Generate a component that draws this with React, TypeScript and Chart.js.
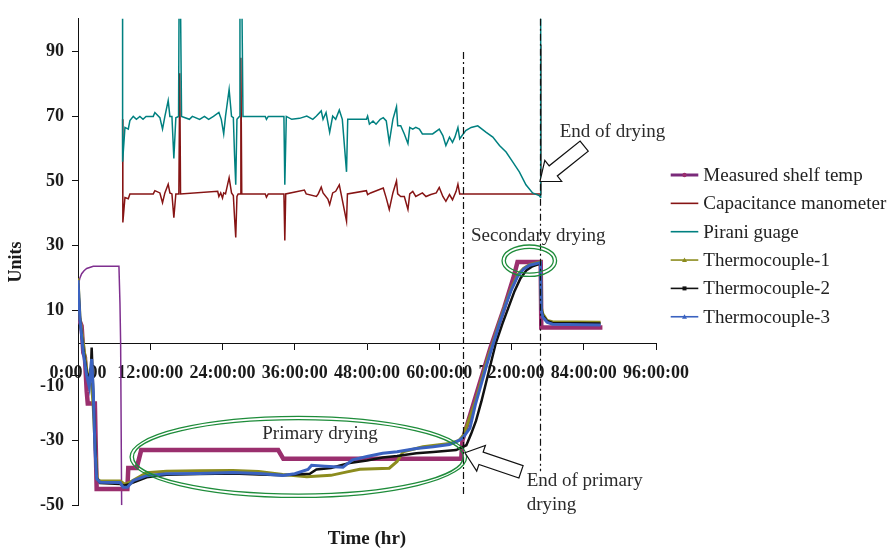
import React, { useEffect, useRef } from 'react';
import { Chart, registerables } from 'chart.js';

Chart.register(...registerables);

const FONT = '"Liberation Serif", "Times New Roman", serif';

// ---------- axes ----------
const xTickHours = [0, 12, 24, 36, 48, 60, 72, 84, 96];
const yTickValues = [-50, -30, -10, 10, 30, 50, 70, 90];

// ---------- series: [hours, value] ----------
const shelfTemp: [number, number][] = [
  [0, 10.8], [0.2, 7.2], [0.6, 5.3], [0.88, -2.9], [1.15, -4.4], [1.45, -15], [1.62, -18.6],
  [2.8, -18.6], [2.95, -32], [3.1, -45], [8.2, -45], [8.35, -38.5], [9.75, -38.5], [10.5, -33],
  [33.25, -33], [34.1, -35.7], [63.65, -35.7], [63.85, -30], [66.7, -12.5], [68.5, -1.5],
  [70.8, 11], [72.3, 20], [73.0, 25], [76.85, 25], [76.95, 4.8], [87.1, 4.8],
];

const capacitanceManometer: [number, number][] = [
  [7.41, 69], [7.45, 37.2], [7.8, 44.9], [8.35, 44.5], [8.62, 46], [12.5, 46], [12.77, 47],
  [13.6, 46.3], [14.04, 43.3], [14.43, 46.3], [14.98, 49], [15.26, 46.3], [15.6, 46], [15.92, 38.7],
  [16.25, 46], [16.75, 46], [16.9, 83.2], [17.03, 46], [23.2, 46.8], [23.4, 45.2], [23.7, 46.3],
  [24.0, 44.7], [24.2, 46.3], [24.5, 46], [25.1, 51], [25.5, 46.3], [25.8, 45.5], [26.0, 38.7],
  [26.2, 32.6], [26.4, 45.2], [26.6, 46], [26.95, 46], [27.05, 88], [27.2, 46], [31.1, 46],
  [31.3, 45], [31.6, 46], [34.2, 46], [34.35, 31.6], [34.5, 46], [37.6, 47.2], [37.9, 46],
  [39.6, 45.2], [39.9, 46], [40.4, 48.1], [40.7, 46.3], [41.5, 44.4], [41.8, 42.7], [42.3, 46.3],
  [42.8, 46.8], [43.4, 48.8], [43.7, 46], [44.6, 37.6], [44.75, 46], [47.9, 47], [48.1, 45.8],
  [48.6, 46.3], [50.7, 47.8], [51.2, 44.7], [51.7, 41.2], [52.3, 46.3], [52.9, 50], [53.1, 46],
  [53.6, 45.2], [54.2, 45.2], [54.8, 41.2], [55.1, 46], [55.6, 46.8], [56.1, 45.2], [57.2, 46.3],
  [57.8, 45.2], [58.6, 45.8], [59.5, 46.3], [60.0, 48], [60.6, 45.2], [61.1, 43.7], [61.7, 45.8],
  [62.2, 44.2], [62.8, 46.8], [63.1, 49], [63.4, 46], [76.8, 46], [76.88, 92],
];

const piraniGauge: [number, number][] = [
  [7.40, 110], [7.41, 55.9], [7.8, 66.5], [8.35, 66], [8.62, 68.6], [9.18, 69.9], [9.7, 69],
  [10.28, 69.9], [10.8, 69], [11.3, 69.9], [12.5, 69.9], [12.77, 71.1], [13.6, 69.5], [14.04, 66],
  [14.43, 69.9], [14.98, 74.8], [15.26, 69.9], [15.6, 69.9], [15.92, 56.9], [16.25, 69.5],
  [16.7, 69.9], [16.8, 110], [17.0, 110], [17.2, 69.9], [18.5, 69], [19.0, 69.9], [20.2, 69],
  [21.0, 69.9], [21.7, 69], [22.5, 69.9], [23.4, 71.1], [23.8, 69], [24.2, 64.5], [24.5, 69.9],
  [25.1, 78.2], [25.5, 69.9], [25.8, 69.5], [26.0, 57.9], [26.2, 48.8], [26.4, 69], [26.8, 69.9],
  [26.9, 110], [27.2, 110], [27.4, 69.9], [31.1, 69.9], [31.3, 69], [31.6, 69.9], [34.2, 69.9],
  [34.35, 48.8], [34.6, 69.9], [35.5, 69], [36.8, 69.3], [38.0, 70], [39.0, 69], [39.6, 70],
  [40.4, 71.6], [40.7, 69], [41.2, 71.1], [41.8, 65], [42.3, 70], [42.8, 69], [43.4, 71.9],
  [43.9, 69], [44.6, 52.8], [44.8, 69], [47.9, 69], [48.1, 70], [48.4, 67.5], [49.0, 68.5],
  [49.5, 67.5], [50.2, 69], [50.7, 69.5], [51.2, 68.5], [51.7, 61.9], [52.3, 69], [52.9, 72.9],
  [53.1, 67], [53.6, 67], [54.2, 64.5], [54.8, 61.5], [55.1, 66.5], [55.6, 66], [56.1, 66.5],
  [56.7, 66], [57.2, 64.5], [57.8, 64.5], [58.9, 64.5], [60.0, 66], [60.6, 64], [61.1, 60.9],
  [61.7, 63.5], [62.2, 61.9], [62.6, 63.5], [63.1, 66.5], [63.4, 63], [64.4, 65.5], [65.3, 66.5],
  [66.4, 67], [67.8, 65], [68.9, 63.5], [70.0, 60.9], [71.1, 58.9], [72.2, 55.9], [73.3, 52.8],
  [74.4, 48.8], [75.5, 46.3], [76.6, 45.5], [76.8, 45], [76.85, 110],
];

const thermocouple1: [number, number][] = [
  [0, 20], [0.33, 8], [0.88, 0], [1.44, -8], [1.87, -12], [2.27, -13], [2.54, -20], [2.82, -31],
  [3.2, -42], [3.65, -42.5], [7.0, -42.5], [7.8, -43.5], [8.5, -43], [11.4, -40], [14.7, -39.5],
  [20.2, -39.4], [25.7, -39.3], [30, -39.6], [34, -40.5], [38, -41.2], [42, -40.8], [44.5, -39.8],
  [46.8, -38.9], [51.7, -38.6], [53, -36.5], [54, -33.5], [57.3, -32], [61.7, -31], [63.3, -30],
  [64, -28.5], [66, -18], [67, -11.5], [68, -5], [68.9, 0], [70, 6.5], [71, 12], [72, 17],
  [73, 21], [74, 23], [75, 24.2], [76.8, 25], [76.95, 11], [77.2, 9], [77.9, 7], [78.8, 6.6],
  [86.8, 6.4],
];

const thermocouple2: [number, number][] = [
  [0, 18.5], [0.33, 7], [0.88, -2], [1.44, -9], [1.87, -11], [2.15, -8], [2.27, -1.4], [2.4, -8],
  [2.6, -19], [2.9, -33], [3.1, -41.5], [3.65, -43.2], [7, -43.5], [7.6, -44], [8.5, -43.5],
  [11.4, -41.4], [14.7, -40.6], [20.2, -40.4], [25.7, -40.2], [30, -40.5], [34, -40.8],
  [38.5, -40.3], [39.6, -39], [42, -38.5], [45.1, -37], [48, -36.2], [50.6, -35.3], [53, -34.8],
  [56.2, -34], [59, -33.6], [62.8, -33], [64.5, -31.5], [65.3, -28], [66.1, -24], [67, -18],
  [67.8, -12], [68.6, -6], [69.4, 0], [70.5, 6], [71.5, 11], [72.5, 16], [73.5, 20], [74.5, 22.5],
  [75.5, 23.7], [76.8, 24.5], [76.95, 10.5], [77.2, 8.5], [77.9, 6.8], [78.8, 6.2], [86.8, 6.0],
];

const thermocouple3: [number, number][] = [
  [0, 19.4], [0.33, 7.2], [0.88, -3], [1.44, -10], [1.87, -13.5], [2.27, -4.9], [2.54, -15],
  [2.82, -33], [3.1, -41.8], [3.65, -42.9], [7, -43], [7.5, -44.5], [8.2, -44.5], [9.2, -42.4],
  [11.4, -40.9], [14.7, -40.3], [20.2, -40.2], [25.7, -39.9], [30, -40.2], [34, -40.8],
  [36, -40.3], [38.2, -39], [38.8, -37.7], [41, -38], [44, -38.3], [45.6, -36], [48, -35],
  [50.6, -34], [53, -33.5], [56.2, -32.5], [59, -32], [61.7, -31.3], [63.3, -30], [64, -29],
  [65.1, -26.2], [66, -19], [67, -12.5], [68, -6], [69, 0], [70, 6], [71, 11.5], [72, 16.5],
  [73, 20.5], [74, 22.8], [75, 24], [76.8, 24.8], [76.95, 10], [77.2, 8], [77.9, 6.4],
  [78.8, 5.8], [86.8, 5.6],
];

// unlabeled thin trace at the start of the run
const startupTrace: [number, number][] = [
  [0.05, 17.9], [0.3, 20], [0.61, 21.4], [1.0, 22.3], [1.44, 23], [2.54, 23.7], [6.8, 23.7],
  [6.97, 12.3], [7.08, 0], [7.25, -50],
];

const seriesLabels = [
  'Measured shelf temp', 'Capacitance manometer', 'Pirani guage',
  'Thermocouple-1', 'Thermocouple-2', 'Thermocouple-3',
];
const seriesColors = ['#9a2f6e', '#861414', '#008080', '#8c8c1e', '#111111', '#3a62c0'];

// ---------- annotations (data units: hours, units) ----------
const phaseLines = [
  { h: 64.0, top: 89.8, bottom: -47.5 },
  { h: 76.75, top: 100, bottom: -39.5 },
];
const phaseEllipses = [
  { h: 36.6, v: -35.1, rh: 27.95, rv: 12.5 },
  { h: 74.96, v: 25.4, rh: 4.53, rv: 4.85 },
];
const arrows = [
  { tipH: 76.73, tipV: 49.83, tailH: 84.07, tailV: 60.75 },
  { tipH: 64.27, tipV: -33.83, tailH: 73.58, tailV: -39.7 },
];
const notes = [
  { text: 'Primary drying', h: 40.2, v: -28.2, align: 'center' },
  { text: 'Secondary drying', h: 76.45, v: 33.1, align: 'center' },
  { text: 'End of drying', h: 88.77, v: 65.0, align: 'center' },
  { text: 'End of primary', h: 74.52, v: -42.4, align: 'left' },
  { text: 'drying', h: 74.52, v: -49.8, align: 'left' },
];

function drawArrow(ctx: CanvasRenderingContext2D, x1: number, y1: number, x2: number, y2: number) {
  const dx = x2 - x1;
  const dy = y2 - y1;
  const len = Math.hypot(dx, dy);
  const ux = dx / len;
  const uy = dy / len;
  const nx = -uy;
  const ny = ux;
  const H = 17;
  const W = 13.5;
  const B = 6.5;
  const pts = [[0, 0], [H, W], [H, B], [len, B], [len, -B], [H, -B], [H, -W]].map(
    ([a, b]) => [x1 + ux * a + nx * b, y1 + uy * a + ny * b]
  );
  ctx.beginPath();
  pts.forEach(([X, Y], i) => (i ? ctx.lineTo(X, Y) : ctx.moveTo(X, Y)));
  ctx.closePath();
  ctx.fillStyle = '#ffffff';
  ctx.fill();
  ctx.strokeStyle = '#111111';
  ctx.lineWidth = 1.2;
  ctx.stroke();
}

const overlayPlugin = {
  id: 'overlay',
  afterDatasetsDraw(chart: any) {
    const { ctx } = chart;
    const xs = chart.scales.x;
    const ys = chart.scales.y;
    const px = (h: number) => xs.getPixelForValue(h);
    const py = (v: number) => ys.getPixelForValue(v);
    ctx.save();
    // phase boundary lines (dash-dot)
    ctx.strokeStyle = '#111111';
    ctx.lineWidth = 1.2;
    ctx.setLineDash([7, 3, 2, 3]);
    for (const m of phaseLines) {
      ctx.beginPath();
      ctx.moveTo(Math.round(px(m.h)) + 0.5, py(m.top));
      ctx.lineTo(Math.round(px(m.h)) + 0.5, py(m.bottom));
      ctx.stroke();
    }
    ctx.setLineDash([]);
    // double-line ellipses
    ctx.strokeStyle = '#1e8c3a';
    ctx.lineWidth = 1.3;
    for (const e of phaseEllipses) {
      const cx = px(e.h);
      const cy = py(e.v);
      const rx = px(e.h + e.rh) - cx;
      const ry = cy - py(e.v + e.rv);
      for (const inset of [0, 3.3]) {
        ctx.beginPath();
        ctx.ellipse(cx, cy, rx - inset, ry - inset, 0, 0, Math.PI * 2);
        ctx.stroke();
      }
    }
    // block arrows
    for (const a of arrows) {
      drawArrow(ctx, px(a.tipH), py(a.tipV), px(a.tailH), py(a.tailV));
    }
    // notes
    ctx.font = `19px ${FONT}`;
    ctx.fillStyle = '#2b2b2b';
    ctx.textBaseline = 'middle';
    for (const t of notes) {
      ctx.textAlign = t.align as CanvasTextAlign;
      ctx.fillText(t.text, px(t.h), py(t.v));
    }
    ctx.restore();
  },
  afterDraw(chart: any) {
    // legend at the right of the plot
    const { ctx, chartArea } = chart;
    const x0 = chartArea.right + 14.7;
    const lineLen = 27.6;
    const y0 = 175;
    const step = 28.35;
    ctx.save();
    ctx.font = `19px ${FONT}`;
    ctx.textBaseline = 'middle';
    ctx.textAlign = 'left';
    seriesLabels.forEach((label, i) => {
      const y = y0 + i * step;
      const color = seriesColors[i];
      ctx.strokeStyle = i === 0 ? '#7a2a7a' : color;
      ctx.lineWidth = i === 0 ? 3 : 1.6;
      ctx.beginPath();
      ctx.moveTo(x0, y);
      ctx.lineTo(x0 + lineLen, y);
      ctx.stroke();
      ctx.fillStyle = color;
      const mx = x0 + lineLen / 2;
      if (i === 0) {
        ctx.beginPath();
        ctx.arc(mx, y, 2.2, 0, Math.PI * 2);
        ctx.fill();
      } else if (i === 3 || i === 5) {
        ctx.beginPath();
        ctx.moveTo(mx, y - 2.5);
        ctx.lineTo(mx + 2.5, y + 2);
        ctx.lineTo(mx - 2.5, y + 2);
        ctx.closePath();
        ctx.fill();
      } else if (i === 4) {
        ctx.fillRect(mx - 2, y - 2, 4, 4);
      }
      ctx.fillStyle = '#222222';
      ctx.fillText(label, x0 + lineLen + 5, y + 1);
    });
    ctx.restore();
  },
};

const toXY = (pts: [number, number][]) => pts.map(([x, y]) => ({ x, y }));

export default function App() {
  const ref = useRef<HTMLCanvasElement>(null);
  useEffect(() => {
    document.body.style.margin = '0';
    const tickFont = { family: FONT, size: 18, weight: 'bold' as const };
    const series = [shelfTemp, capacitanceManometer, piraniGauge, thermocouple1, thermocouple2, thermocouple3];
    const widths = [4.5, 1.5, 1.5, 3, 2.5, 3];
    const orders = [3, 5, 4, 2, 1, 0];
    const datasets: any[] = series.map((pts, i) => ({
      label: seriesLabels[i],
      data: toXY(pts),
      borderColor: seriesColors[i],
      backgroundColor: seriesColors[i],
      borderWidth: widths[i],
      pointRadius: 0,
      tension: 0,
      order: orders[i],
    }));
    datasets.push({
      label: '',
      data: toXY(startupTrace),
      borderColor: '#7f2f8f',
      backgroundColor: '#7f2f8f',
      borderWidth: 1.5,
      pointRadius: 0,
      tension: 0,
      order: 6,
    });
    const chart = new Chart(ref.current as HTMLCanvasElement, {
      type: 'line',
      data: { datasets },
      options: {
        animation: false,
        responsive: false,
        devicePixelRatio: 1,
        layout: { padding: { left: 2, right: 237, top: 12, bottom: 0 } },
        plugins: {
          legend: { display: false },
          tooltip: { enabled: false },
          title: {
            display: true,
            position: 'bottom',
            text: 'Time (hr)',
            fullSize: false,
            color: '#1a1a1a',
            font: { family: FONT, size: 19, weight: 'bold' },
            padding: { top: 22, bottom: 0 },
          },
        },
        scales: {
          x: {
            type: 'linear',
            min: 0,
            max: 96,
            position: { y: 0 } as any,
            z: 1,
            afterBuildTicks: (s: any) => {
              s.ticks = xTickHours.map((v) => ({ value: v }));
            },
            afterFit: (s: any) => {
              s.height = 0;
            },
            ticks: {
              callback: (v: any) => `${v}:00:00`,
              font: tickFont,
              color: '#1a1a1a',
              padding: 13,
              autoSkip: false,
              maxRotation: 0,
              minRotation: 0,
            },
            grid: { drawOnChartArea: false, drawTicks: true, tickLength: 6, color: '#111111' },
            border: { color: '#111111', width: 1 },
          },
          y: {
            type: 'linear',
            min: -50,
            max: 100,
            afterBuildTicks: (s: any) => {
              s.ticks = yTickValues.map((v) => ({ value: v }));
            },
            afterFit: (s: any) => {
              s.width = 76;
            },
            ticks: {
              callback: (v: any) => (v === -10 ? ['', '-10'] : String(v)),
              font: tickFont,
              color: '#1a1a1a',
              padding: 8,
              autoSkip: false,
            },
            grid: { drawOnChartArea: false, drawTicks: true, tickLength: 6, color: '#111111' },
            border: { color: '#111111', width: 1 },
            title: {
              display: true,
              text: 'Units',
              color: '#1a1a1a',
              font: { family: FONT, size: 18, weight: 'bold' },
              padding: { top: 4, bottom: 4 },
            },
          },
        },
      },
      plugins: [overlayPlugin],
    } as any);
    return () => chart.destroy();
  }, []);
  return (
    <div style={{ width: 893, height: 550 }}>
      <canvas ref={ref} width={893} height={550} style={{ display: 'block' }} />
    </div>
  );
}
